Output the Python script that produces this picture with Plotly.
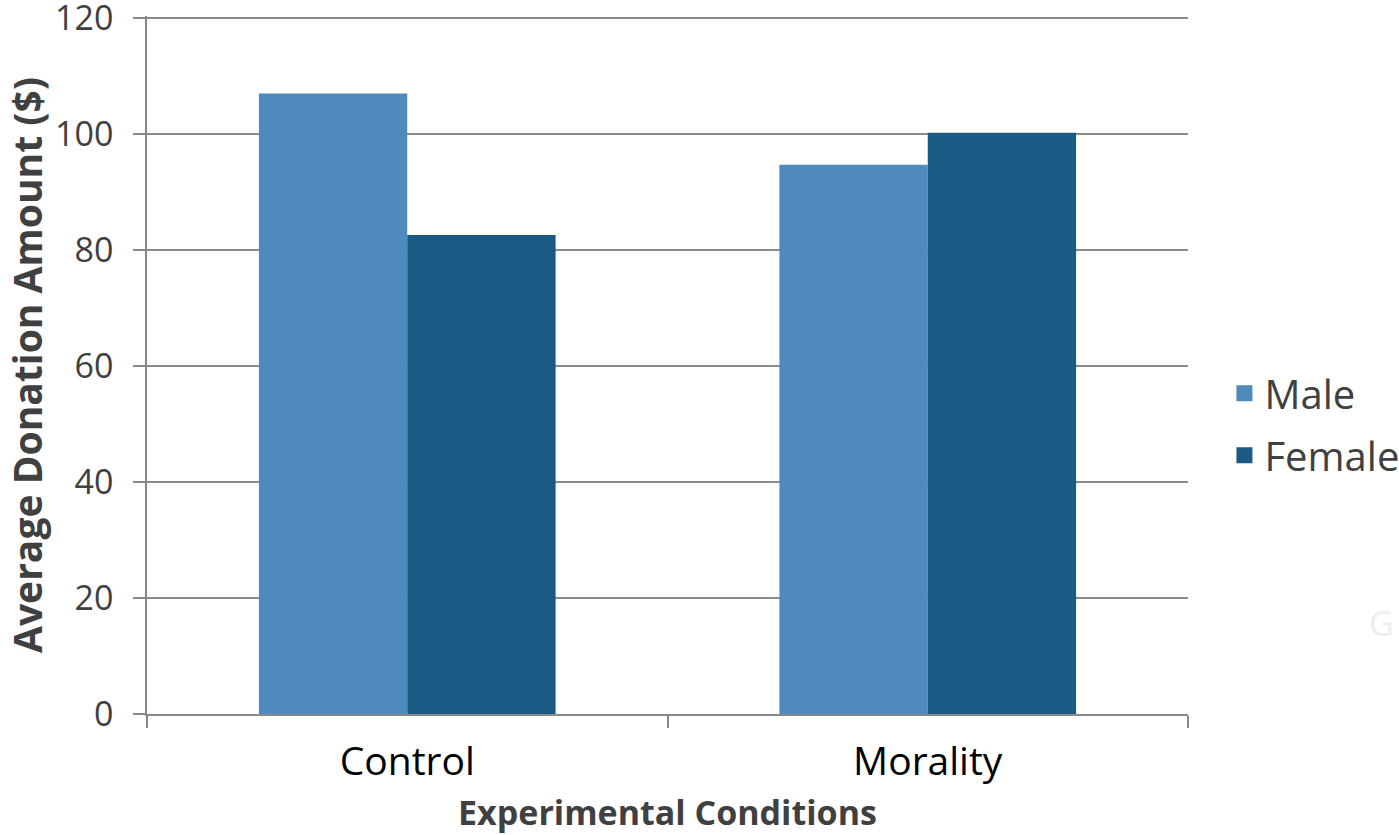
import plotly.graph_objects as go

categories = ["Control", "Morality"]
male = [107.0, 94.7]
female = [82.6, 100.2]
y_ticks = [0, 20, 40, 60, 80, 100, 120]

male_color = "#4f8abf"
female_color = "#1b5a84"
font_family = "Open Sans, Noto Sans, sans-serif"

fig = go.Figure()
fig.add_trace(go.Bar(x=categories, y=male, name="Male", marker_color=male_color,
                     marker_line_width=0, showlegend=False))
fig.add_trace(go.Bar(x=categories, y=female, name="Female", marker_color=female_color,
                     marker_line_width=0, showlegend=False))
# legend entries with larger square swatches
for name, col in [("Male", male_color), ("Female", female_color)]:
    fig.add_trace(go.Scatter(x=[None], y=[None], mode="markers", name=name,
                             legendgroup=name,
                             marker=dict(symbol="square", size=22, color=col)))

fig.update_layout(
    width=1399, height=835,
    margin=dict(l=147, r=211, t=16, b=121, autoexpand=False),
    paper_bgcolor="white", plot_bgcolor="white",
    barmode="group", bargap=0.43, bargroupgap=0,
    font=dict(family=font_family, color="#404040"),
    legend=dict(x=1.035, y=0.415, xanchor="left", yanchor="middle",
                font=dict(size=40, color="#404040"),
                tracegroupgap=7, traceorder="grouped",
                itemsizing="trace"),
    xaxis=dict(
        title=dict(text="<b>Experimental Conditions</b>", font=dict(size=34, color="#404040"), standoff=27),
        tickfont=dict(size=39, color="#000000"),
        showline=True, linecolor="#888888", linewidth=1.5,
        ticks="outside", tickson="boundaries", ticklen=12, tickcolor="#888888", tickwidth=1.5,
        ticklabelstandoff=12,
        showgrid=False, automargin=False,
    ),
    yaxis=dict(
        title=dict(text="<b>Average Donation Amount ($)</b>", font=dict(size=39, color="#404040"), standoff=27),
        range=[0, 120.35], tickvals=y_ticks,
        tickfont=dict(size=34, color="#404040"),
        showline=True, linecolor="#888888", linewidth=1.5,
        ticks="outside", ticklen=12, tickcolor="#888888", tickwidth=1.5,
        ticklabelstandoff=13, ticklabeloverflow="allow",
        showgrid=True, gridcolor="#8c8c8c", gridwidth=1.5,
        zeroline=False, automargin=False,
    ),
    annotations=[dict(text="G", x=1.0, y=0.13, xref="paper", yref="paper",
                      xanchor="left", yanchor="middle", xshift=179,
                      showarrow=False, font=dict(size=34, color="#eeeeee"))],
)

fig.write_html("out.html", config={"displayModeBar": False},
               post_script="document.body.style.margin='0px';")
